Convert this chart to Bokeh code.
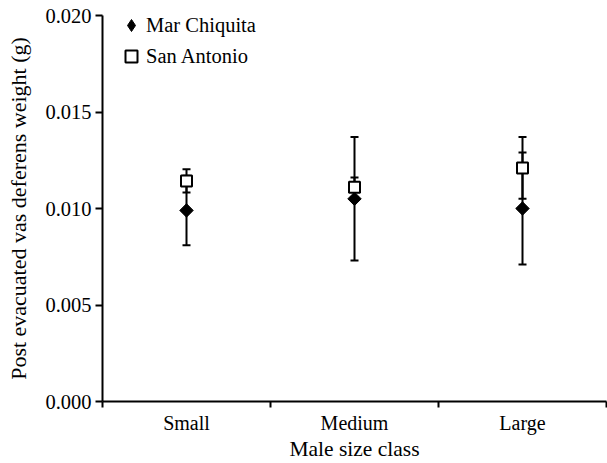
import math
from bokeh.plotting import figure
from bokeh.models import (Range1d, FixedTicker, ColumnDataSource, Whisker, TeeHead,
                          Legend, LegendItem, NumeralTickFormatter)
from bokeh.embed import file_html
from bokeh.resources import INLINE

# ---- data ----
categories = ["Small", "Medium", "Large"]
mar_chiquita_mean = [0.0099, 0.0105, 0.0100]
mar_chiquita_err = [0.0018, 0.0032, 0.0029]
san_antonio_mean = [0.01143, 0.0111, 0.0121]
san_antonio_err = [0.0006, 0.0005, 0.0016]
y_ticks = [0.000, 0.005, 0.010, 0.015, 0.020]

FONT = "Liberation Serif"
x_pos = [i + 0.5 for i in range(len(categories))]

mc = ColumnDataSource(dict(
    x=x_pos, y=mar_chiquita_mean,
    lo=[m - e for m, e in zip(mar_chiquita_mean, mar_chiquita_err)],
    hi=[m + e for m, e in zip(mar_chiquita_mean, mar_chiquita_err)]))
sa = ColumnDataSource(dict(
    x=x_pos, y=san_antonio_mean,
    lo=[m - e for m, e in zip(san_antonio_mean, san_antonio_err)],
    hi=[m + e for m, e in zip(san_antonio_mean, san_antonio_err)]))

p = figure(width=607, height=463, output_backend="svg", toolbar_location=None,
           x_range=Range1d(0, 3.0), y_range=Range1d(0, 0.020),
           min_border_left=102, min_border_right=1, min_border_top=15, min_border_bottom=40)
p.outline_line_color = None
p.xgrid.grid_line_color = None
p.ygrid.grid_line_color = None
p.background_fill_color = "white"

for src in (mc, sa):
    w = Whisker(source=src, base="x", lower="lo", upper="hi", dimension="height",
                line_color="black", line_width=2,
                upper_head=TeeHead(size=8, line_width=2, line_color="black"),
                lower_head=TeeHead(size=8, line_width=2, line_color="black"),
                level="underlay")
    p.add_layout(w)

# diamond used for the legend entry (hidden under the rotated square in the plot)
r_mc_leg = p.scatter("x", "y", source=mc, marker="diamond", size=12,
                     fill_color="black", line_color="black", line_width=1)
r_mc = p.scatter("x", "y", source=mc, marker="square", angle=math.pi / 4, size=9.5,
                 fill_color="black", line_color="black", line_width=1)
r_sa = p.scatter("x", "y", source=sa, marker="square", size=11,
                 fill_color="white", line_color="black", line_width=2)

# axes
xa = p.xaxis[0]
xa.ticker = FixedTicker(ticks=x_pos, minor_ticks=list(range(0, len(categories) + 1)))
xa.major_label_overrides = {x: c for x, c in zip(x_pos, categories)}
xa.major_tick_out = 0
xa.major_tick_in = 0
xa.minor_tick_out = 6
xa.minor_tick_in = 0
xa.minor_tick_line_width = 2
xa.minor_tick_line_color = "black"
xa.axis_line_width = 2
xa.axis_line_color = "black"
xa.major_label_text_font = FONT
xa.major_label_text_font_size = "20px"
xa.major_label_text_color = "black"
xa.major_label_standoff = 4
xa.axis_label = "Male size class"
xa.axis_label_text_font = FONT
xa.axis_label_text_font_style = "normal"
xa.axis_label_text_font_size = "21.5px"
xa.axis_label_text_color = "black"
xa.axis_label_standoff = 0

ya = p.yaxis[0]
ya.ticker = FixedTicker(ticks=y_ticks, minor_ticks=[])
ya.formatter = NumeralTickFormatter(format="0.000")
ya.major_tick_out = 7
ya.major_tick_in = 0
ya.major_tick_line_width = 2
ya.major_tick_line_color = "black"
ya.minor_tick_out = 0
ya.minor_tick_in = 0
ya.axis_line_width = 2
ya.axis_line_color = "black"
ya.major_label_text_font = FONT
ya.major_label_text_font_size = "20.5px"
ya.major_label_text_color = "black"
ya.major_label_standoff = 4
ya.axis_label = "Post evacuated vas deferens weight (g)"
ya.axis_label_text_font = FONT
ya.axis_label_text_font_style = "normal"
ya.axis_label_text_font_size = "22px"
ya.axis_label_text_color = "black"
ya.axis_label_standoff = 11

legend = Legend(items=[LegendItem(label="Mar Chiquita", renderers=[r_mc_leg]),
                       LegendItem(label="San Antonio", renderers=[r_sa])],
                location=(14, 330), glyph_width=30, glyph_height=30, label_height=30,
                spacing=1, padding=0, margin=0, label_standoff=0,
                label_text_font=FONT, label_text_font_size="20.5px",
                label_text_color="black",
                border_line_color=None, background_fill_alpha=0)
p.add_layout(legend)

open("out.html", "w").write(file_html(p, INLINE))
